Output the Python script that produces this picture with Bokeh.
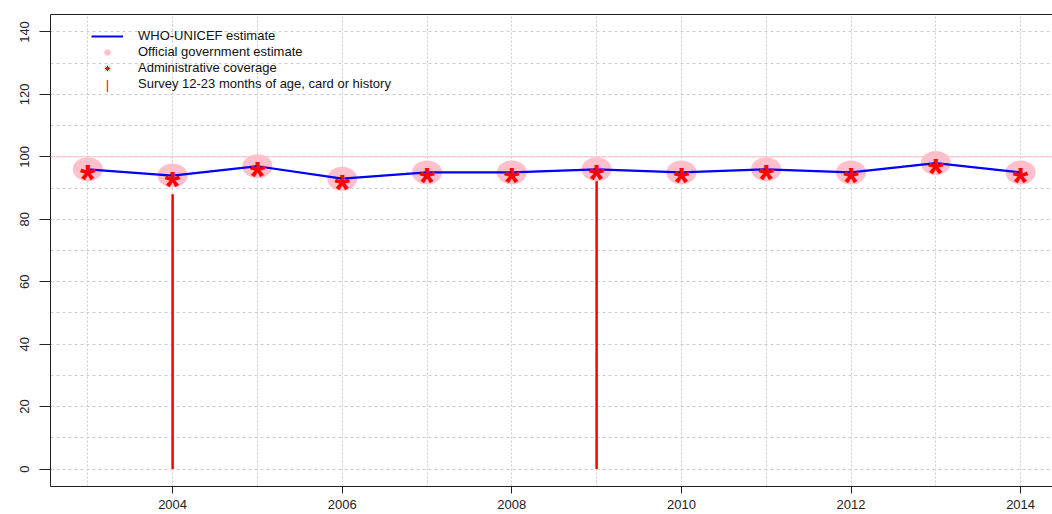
import math
from bokeh.plotting import figure
from bokeh.models import (Range1d, LinearAxis, SingleIntervalTicker,
                          FixedTicker, Legend, LegendItem, Span, Label)
from bokeh.core.properties import value
from bokeh.embed import file_html
from bokeh.resources import INLINE

# ---- data ----
years = [2003, 2004, 2005, 2006, 2007, 2008, 2009, 2010, 2011, 2012, 2013, 2014]
wuenic = [96, 94, 97, 93, 95, 95, 96, 95, 96, 95, 98, 95]
official = [96, 94, 97, 93, 95, 95, 96, 95, 96, 95, 98, 95]
admin = [96, 94, 97, 93, 95, 95, 96, 95, 96, 95, 98, 95]
survey_years = [2004, 2009]
survey_vals = [88, 96]
x_ticks = [2004, 2006, 2008, 2010, 2012, 2014]
y_ticks = [0, 20, 40, 60, 80, 100, 120, 140]

FONT = "Liberation Sans"
FRAME_H = 514 - 14 - 28

p = figure(width=1052, height=514, output_backend="svg", toolbar_location=None,
           x_range=Range1d(2002.56, 2014.376), y_range=Range1d(-5.6, 145.6),
           min_border_left=50, min_border_top=14, min_border_right=0, min_border_bottom=28)
p.outline_line_color = None
p.background_fill_color = "white"
p.border_fill_color = "white"

# axes
p.xaxis.ticker = FixedTicker(ticks=x_ticks)
p.yaxis.ticker = FixedTicker(ticks=y_ticks)
for ax in (p.xaxis[0], p.yaxis[0]):
    ax.axis_line_color = "#222222"
    ax.major_tick_line_color = "#222222"
    ax.minor_tick_line_color = None
    ax.major_tick_in = 0
    ax.major_label_text_font = FONT
    ax.major_label_text_font_size = "13px"
    ax.major_label_text_color = "#222222"
p.xaxis.major_tick_out = 7
p.xaxis.major_label_standoff = 6
p.yaxis.major_tick_out = 11
p.yaxis.major_label_standoff = 10
p.yaxis.major_label_orientation = "vertical"

top_axis = LinearAxis(ticker=FixedTicker(ticks=[]), major_tick_out=0, major_tick_in=0,
                      minor_tick_out=0, minor_tick_in=0, major_label_text_font_size="0px",
                      major_label_standoff=0, axis_line_color="#222222")
p.add_layout(top_axis, "above")

# grids
p.xgrid.ticker = SingleIntervalTicker(interval=1)
p.ygrid.ticker = SingleIntervalTicker(interval=10)
p.xgrid.grid_line_color = "#cccccc"
p.xgrid.grid_line_dash = "2 2"
p.ygrid.grid_line_color = "#cccccc"
p.ygrid.grid_line_dash = "3 3"

# reference line at 100
p.add_layout(Span(location=100, dimension="width", line_color="pink", line_width=1))

# survey
p.segment(x0=survey_years, y0=[0] * len(survey_years), x1=survey_years, y1=survey_vals,
          line_color="red", line_width=2.5)
# invisible renderer used only as the survey legend entry (its key is drawn as a "|" label)
sur_r = p.scatter(x=survey_years, y=survey_vals, marker="dash", size=0,
                  line_color=None, fill_color=None)

# official government estimate (small key glyph hidden under the pink ellipses)
off_r = p.scatter(x=years, y=official, marker="circle", size=4,
                  fill_color="pink", line_color="pink")
p.ellipse(x=years, y=official, width=30, height=24, width_units="screen",
          height_units="screen", fill_color="pink", line_color=None)

# administrative coverage key glyph (hidden under the stars)
adm_r = p.scatter(x=years, y=admin, marker="asterisk", size=4, line_color="red", line_width=1)

# WUENIC line
line_r = p.line(x=years, y=wuenic, line_color="blue", line_width=2.2)

# administrative coverage (*)
p.text(x=years, y=admin, text=["*"] * len(years), text_color="red",
       text_font=value(FONT), text_font_style="bold", text_font_size="40px",
       text_align="center", text_baseline="middle", y_offset=10)

legend = Legend(items=[
    LegendItem(label="WHO-UNICEF estimate", renderers=[line_r]),
    LegendItem(label="Official government estimate", renderers=[off_r]),
    LegendItem(label="Administrative coverage", renderers=[adm_r]),
    LegendItem(label="Survey 12-23 months of age, card or history", renderers=[sur_r]),
], location=(41, 395), padding=0, margin=0, spacing=1, glyph_width=32, glyph_height=14,
    label_height=14, label_standoff=15, label_text_font=FONT, label_text_font_size="13px",
    label_text_color="#111111", border_line_color=None, background_fill_alpha=0)
p.add_layout(legend)

# vertical-bar key for the survey legend row
p.add_layout(Label(x=57, y=FRAME_H - 70, x_units="screen", y_units="screen", text="|",
                   text_color="red", text_font=FONT, text_font_size="13px",
                   text_align="center", text_baseline="middle"))

open("out.html", "w").write(file_html(p, INLINE))
